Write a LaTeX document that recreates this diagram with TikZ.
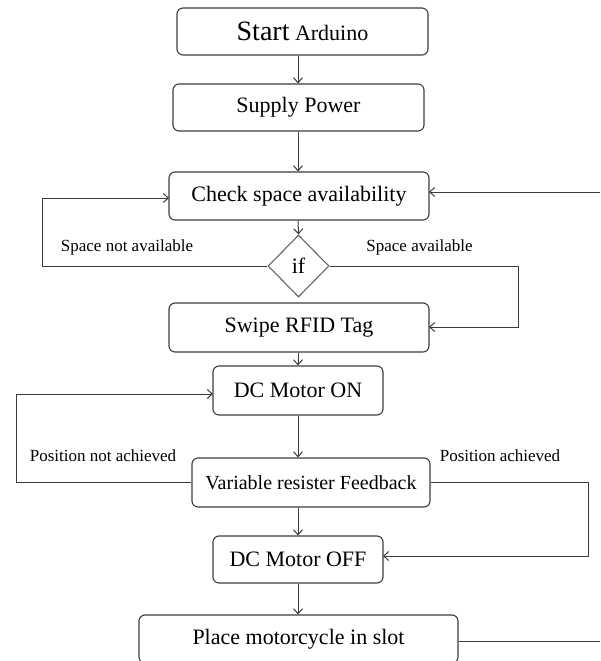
\documentclass[tikz,border=0pt]{standalone}
\usepackage{fontspec}
\setmainfont{Liberation Serif}
\usetikzlibrary{arrows.meta,shapes.geometric}
\definecolor{ln}{HTML}{3C3C3C}
\begin{document}
\begin{tikzpicture}[x=1pt,y=-1pt,
  box/.style={draw=ln,line width=1.1pt,rounded corners=6pt,inner sep=0pt,font=\fontsize{22}{25}\selectfont},
  lbl/.style={inner sep=0pt,font=\fontsize{17}{20}\selectfont},
  arr/.style={draw=ln,line width=1pt,-{Straight Barb[length=5pt,width=9pt]}},
  ln/.style={draw=ln,line width=1pt}]
\useasboundingbox (0,0) rectangle (600,661);
\clip (0,0) rectangle (600,661);
\coordinate (spine) at (298,0);
\node[box,minimum width=251pt,minimum height=47pt] (start) at (302.5,31.5) {{\fontsize{28}{30}\selectfont Start} Arduino};
\node[box,minimum width=251pt,minimum height=47pt] (supply) at (298.5,107.5) {Supply Power};
\node[box,minimum width=260pt,minimum height=48pt] (check) at (299,196) {Check space availability};
\node[diamond,draw=ln!80,line width=1.1pt,minimum width=61pt,minimum height=62pt,inner sep=0pt,font=\fontsize{22}{25}\selectfont] (if) at (298.5,266) {if};
\node[box,minimum width=260pt,minimum height=49pt] (swipe) at (299,327.5) {Swipe RFID Tag};
\node[box,minimum width=170pt,minimum height=49pt] (on) at (298,390.5) {DC Motor ON};
\node[box,minimum width=238pt,minimum height=49pt,font=\fontsize{20}{23}\selectfont] (var) at (311,482.5) {Variable resister Feedback};
\node[box,minimum width=170pt,minimum height=47pt] (off) at (298,559.5) {DC Motor OFF};
\node[box,minimum width=319pt,minimum height=48pt] (place) at (298.5,639) {Place motorcycle in slot};
% labels
\node[lbl] (l1) at (127,247) {Space not available};
\node[lbl] (l2) at (419.5,247) {Space available};
\node[lbl] (l3) at (103,456) {Position not achieved};
\node[lbl] (l4) at (500,456) {Position achieved};
% vertical arrows
\draw[arr] (start.south -| spine) -- (supply.north -| spine);
\draw[arr] (supply.south -| spine) -- (check.north -| spine);
\draw[arr] (check.south -| spine) -- (if.north);
\draw[arr] (swipe.south -| spine) -- (on.north -| spine);
\draw[arr] (on.south -| spine) -- (var.north -| spine);
\draw[arr] (var.south -| spine) -- (off.north -| spine);
\draw[arr] (off.south -| spine) -- (place.north -| spine);
% loops
\coordinate (cl) at (169,198);
\coordinate (cr) at (429,192);
\coordinate (xr) at (600,192);
\coordinate (sr) at (429,327);
\coordinate (onl) at (213,394);
\coordinate (offr) at (383,556);
\coordinate (pr) at (600,641);
\draw[arr] (if.west) -- (42,266) -- (42,198) -- (cl);
\draw[arr] (if.east) -- (518,266) -- (518,327) -- (sr);
\draw[arr] (var.west) -- (16,482.5) -- (16,394) -- (onl);
\draw[arr] (var.east) -- (588,482.5) -- (588,556) -- (offr);
\draw[ln] (place.east |- pr) -- (pr);
\draw[arr] (xr) -- (cr);
\end{tikzpicture}
\end{document}
